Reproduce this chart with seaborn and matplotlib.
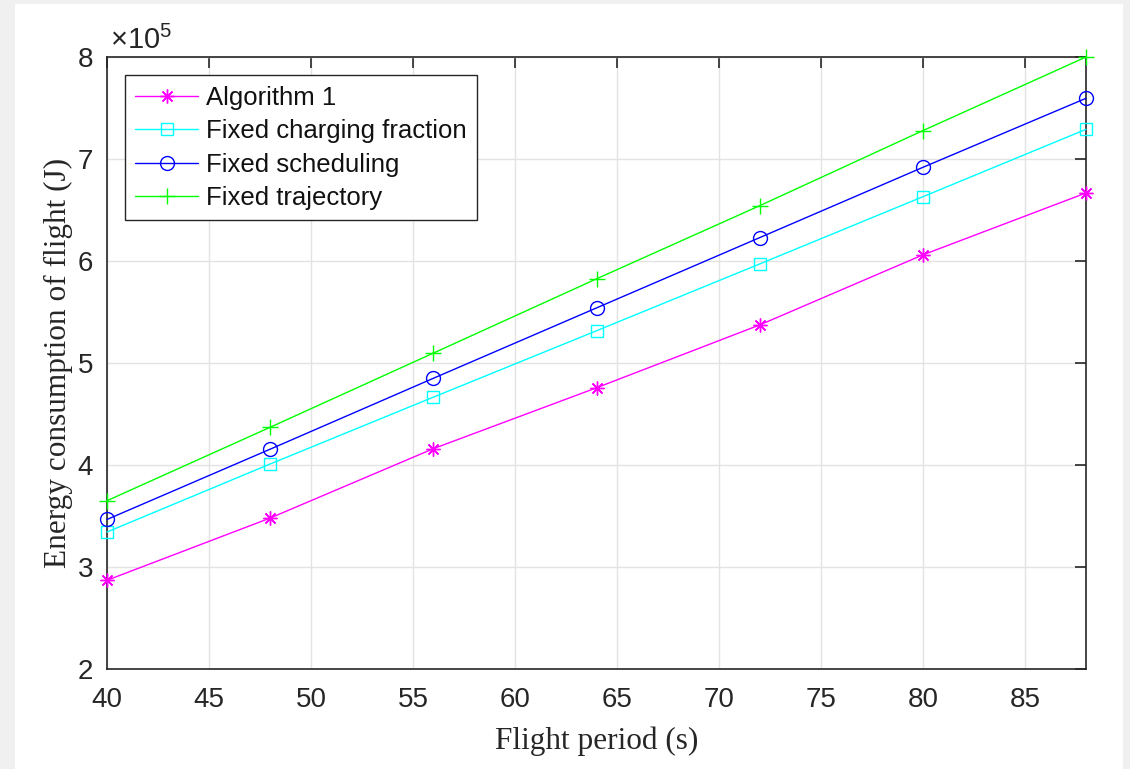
import numpy as np
import pandas as pd
import matplotlib
matplotlib.use("Agg")
import matplotlib.pyplot as plt
from matplotlib.patches import Rectangle
import seaborn as sns

# Flight period (s)
flight_period = [40, 48, 56, 64, 72, 80, 88]

# Energy consumption of flight, in units of 1e5 J
algorithm_1 = [2.87, 3.48, 4.16, 4.757, 5.373, 6.06, 6.667]
fixed_charging_fraction = [3.343, 4.01, 4.665, 5.316, 5.971, 6.63, 7.291]
fixed_scheduling = [3.466, 4.155, 4.85, 5.54, 6.229, 6.918, 7.595]
fixed_trajectory = [3.65, 4.37, 5.097, 5.825, 6.542, 7.278, 8.0]

series_names = ["Algorithm 1", "Fixed charging fraction",
                "Fixed scheduling", "Fixed trajectory"]
series_values = [algorithm_1, fixed_charging_fraction,
                 fixed_scheduling, fixed_trajectory]
series_colors = ["#ff00ff", "#00ffff", "#0000ff", "#00ff00"]
series_markers = [(8, 2, 0), "s", "o", "+"]
series_msize = [10, 8.5, 10, 12]

x_ticks = [40, 45, 50, 55, 60, 65, 70, 75, 80, 85]
y_ticks = [2, 3, 4, 5, 6, 7, 8]

df = pd.DataFrame({
    "period": np.tile(flight_period, len(series_names)),
    "energy": np.concatenate(series_values),
    "method": np.repeat(series_names, len(flight_period)),
})

sns.set_style("white")
plt.rcParams["font.family"] = ["Liberation Sans", "DejaVu Sans"]
plt.rcParams["mathtext.fontset"] = "custom"
plt.rcParams["mathtext.rm"] = "Liberation Sans"
plt.rcParams["mathtext.it"] = "Liberation Sans"

fig = plt.figure(figsize=(11.3, 7.69), dpi=100)
fig.patch.set_facecolor("#f0f0f0")
panel = Rectangle((15 / 1130, 0), (1123 - 15) / 1130, 1 - 4 / 769,
                  transform=fig.transFigure, facecolor="white",
                  edgecolor="none", zorder=-10)
fig.patches.append(panel)

ax = fig.add_axes([107 / 1130, 1 - 669 / 769, (1086 - 107) / 1130, (669 - 57) / 769])
ax.set_zorder(1)
ax.set_facecolor("white")

for name, color, mk, ms in zip(series_names, series_colors, series_markers, series_msize):
    sub = df[df["method"] == name]
    sns.lineplot(data=sub, x="period", y="energy", ax=ax, color=color,
                 marker=mk, markersize=ms, markerfacecolor="none",
                 markeredgecolor=color, markeredgewidth=1.0, linewidth=1.0,
                 label=name, clip_on=False, zorder=3)

ax.set_xlim(40, 88)
ax.set_ylim(2, 8)
ax.set_xticks(x_ticks)
ax.set_yticks(y_ticks)
ax.grid(True, color="#e3e3e3", linewidth=1.0)
ax.set_axisbelow(True)

edge = "#262626"
for s in ax.spines.values():
    s.set_visible(True)
    s.set_color(edge)
    s.set_linewidth(1.2)
ax.tick_params(direction="in", length=8, width=1.2, color=edge,
               labelsize=20, labelcolor="#262626", top=True, right=True)
ax.tick_params(axis="x", pad=13)
ax.tick_params(axis="y", pad=10)

ax.set_xlabel("Flight period (s)", family=["Liberation Serif"], fontsize=22.5,
              color="#262626", labelpad=10)
ax.set_ylabel("Energy consumption of flight (J)", family=["Liberation Serif"],
              fontsize=22.5, color="#262626", labelpad=3)

ax.text(0.003, 1.003, r"$\times 10^5$", transform=ax.transAxes, fontsize=21,
        color="#262626", ha="left", va="bottom")

leg = ax.legend(loc="upper left", bbox_to_anchor=(0.0185, 0.97), fontsize=18.5,
                frameon=True, fancybox=False, edgecolor=edge, framealpha=1,
                handlelength=2.45, handletextpad=0.3, labelspacing=0.37,
                borderpad=0.4, borderaxespad=0)
leg.get_frame().set_linewidth(1.0)
for t in leg.get_texts():
    t.set_color("#111111")

fig.savefig("out.png", dpi=100, facecolor=fig.get_facecolor())
